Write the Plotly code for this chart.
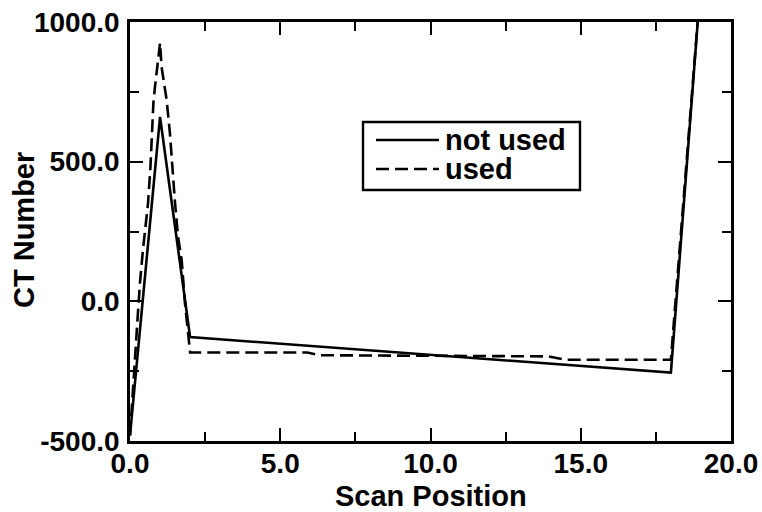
import plotly.graph_objects as go

# CT number profile along the scan, with and without the correction
x_not_used = [0.0, 1.0, 2.0, 18.0, 19.0]
y_not_used = [-480, 660, -128, -255, 1150]

x_used = [0.0, 0.23, 0.27, 0.33, 0.43, 0.6, 0.68, 0.74, 0.78, 0.83, 0.91, 1.0,
          1.05, 1.16, 1.22, 1.33, 1.39, 1.5, 1.6, 1.72, 1.83, 1.95, 2.0,
          5.9, 6.3, 10.0, 13.9, 14.5, 18.0, 19.0]
y_used = [-480, -128, -32, 64, 183, 351, 480, 620, 713, 767, 854, 925,
          840, 767, 720, 600, 505, 350, 230, 147, -7, -120, -183,
          -183, -193, -195, -197, -209, -209, 1150]

series_names = ["not used", "used"]

x_tick_vals = [0.0, 5.0, 10.0, 15.0, 20.0]
x_tick_text = ["0.0", "5.0", "10.0", "15.0", "20.0"]
y_tick_vals = [-500.0, 0.0, 500.0, 1000.0]
y_tick_text = ["-500.0", "0.0", "500.0", "1000.0"]

x_title = "Scan Position"
y_title = "CT Number"

FONT = "Liberation Sans, Arial, Helvetica, sans-serif"
tick_font = dict(family=FONT, size=28, color="black", weight="bold")
text_font = dict(family=FONT, size=29, color="black", weight="bold")

fig = go.Figure()
fig.add_trace(go.Scatter(x=x_not_used, y=y_not_used, mode="lines",
                         name=series_names[0],
                         line=dict(color="black", width=2.6)))
fig.add_trace(go.Scatter(x=x_used, y=y_used, mode="lines",
                         name=series_names[1],
                         line=dict(color="black", width=2.6, dash="13px,6px")))

axis_common = dict(
    showline=True, linecolor="black", linewidth=2.6, mirror="ticks",
    ticks="inside", ticklen=13, tickwidth=2.2, tickcolor="black",
    showgrid=False, zeroline=False, tickfont=tick_font, automargin=False,
)

fig.update_xaxes(range=[0, 20], tickvals=x_tick_vals, ticktext=x_tick_text,
                 ticklabelstandoff=-4,
                 minor=dict(dtick=2.5, ticklen=9, tickwidth=2.2,
                            tickcolor="black", ticks="inside"),
                 **axis_common)
fig.update_yaxes(range=[-500, 1000], tickvals=y_tick_vals, ticktext=y_tick_text,
                 ticklabelstandoff=2,
                 minor=dict(dtick=250, ticklen=9, tickwidth=2.2,
                            tickcolor="black", ticks="inside"),
                 **axis_common)

plot_l, plot_r, plot_t, plot_b = 130, 731, 22, 441

def px_to_paper_x(px):
    return (px - plot_l) / (plot_r - plot_l)

def px_to_paper_y(py):
    return (plot_b - py) / (plot_b - plot_t)

# Axis titles
fig.add_annotation(xref="paper", yref="paper", x=0.5, y=px_to_paper_y(496),
                   xanchor="center", yanchor="middle", showarrow=False,
                   height=28, borderpad=0,
                   text=x_title, font=text_font)
fig.add_annotation(xref="paper", yref="paper", x=px_to_paper_x(24),
                   y=px_to_paper_y(230), textangle=-90,
                   xanchor="center", yanchor="middle", showarrow=False,
                   text=y_title, font=text_font)

# Legend box drawn in paper coordinates
legend_x0, legend_x1 = 363, 580
legend_y0, legend_y1 = 122, 190

fig.add_shape(type="rect", xref="paper", yref="paper",
              x0=px_to_paper_x(legend_x0), x1=px_to_paper_x(legend_x1),
              y0=px_to_paper_y(legend_y1), y1=px_to_paper_y(legend_y0),
              line=dict(color="black", width=2.4), fillcolor="white")
rows = [(140, None), (169, "13px,6px")]
for (row_y, dash), label in zip(rows, series_names):
    fig.add_shape(type="line", xref="paper", yref="paper",
                  x0=px_to_paper_x(376), x1=px_to_paper_x(439),
                  y0=px_to_paper_y(row_y), y1=px_to_paper_y(row_y),
                  line=dict(color="black", width=2.6, dash=dash))
    fig.add_annotation(xref="paper", yref="paper",
                       x=px_to_paper_x(444), y=px_to_paper_y(row_y),
                       xanchor="left", yanchor="middle", showarrow=False,
                       height=28, borderpad=0,
                       text=label, font=text_font)

fig.update_layout(
    width=762, height=512,
    margin=dict(l=plot_l, r=762 - plot_r, t=plot_t, b=512 - plot_b),
    paper_bgcolor="white", plot_bgcolor="white",
    showlegend=False,
)

fig.write_html("out.html")
